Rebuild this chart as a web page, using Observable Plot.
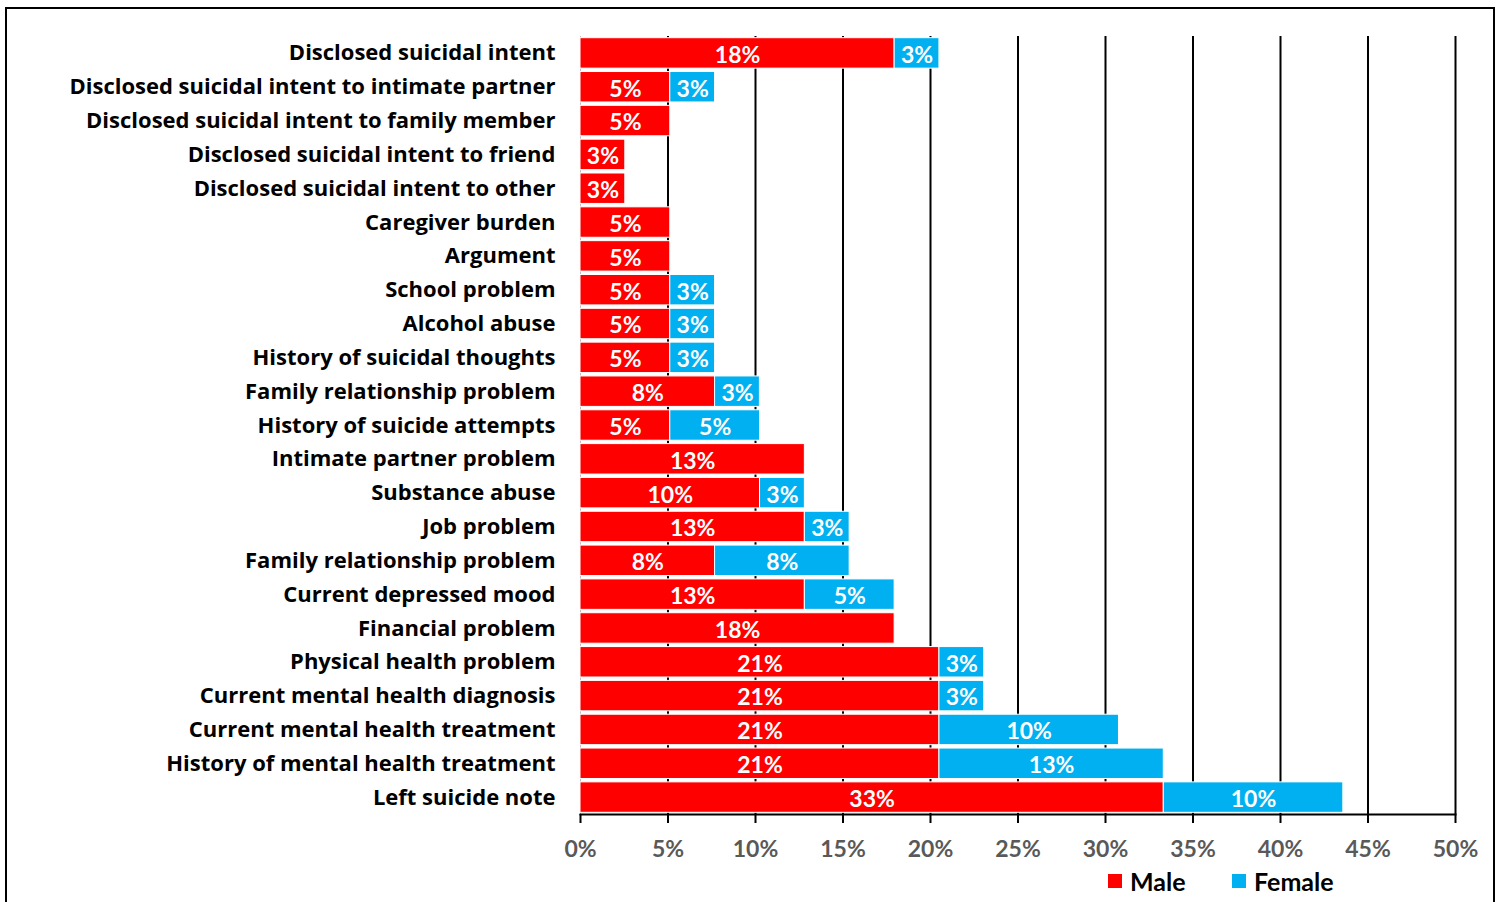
<!DOCTYPE html>
<html>
<head>
<meta charset="utf-8">
<script src="https://cdn.jsdelivr.net/npm/d3@7"></script>
<script src="https://cdn.jsdelivr.net/npm/@observablehq/plot@0.6"></script>
<style>
  html, body { margin: 0; padding: 0; background: #fff; }
  body { width: 1501px; height: 902px; overflow: hidden; position: relative; font-family: Lato, "Open Sans", sans-serif; }
  #border { position: absolute; left: 5px; top: 7px; width: 1486px; height: 1000px; border: 2px solid #000; pointer-events: none; }
  #legend { position: absolute; left: 0; top: 866px; width: 1501px; height: 30px; }
  .item { position: absolute; top: 0; display: flex; align-items: center; height: 30px; font-weight: bold; font-size: 25px; color: #000; }
  .sw { width: 14px; height: 14px; margin-right: 8px; }
</style>
</head>
<body>
<div id="chart"></div>
<div id="legend"></div>
<div id="border"></div>
<script>
const categories = [
  "Disclosed suicidal intent",
  "Disclosed suicidal intent to intimate partner",
  "Disclosed suicidal intent to family member",
  "Disclosed suicidal intent to friend",
  "Disclosed suicidal intent to other",
  "Caregiver burden",
  "Argument",
  "School problem",
  "Alcohol abuse",
  "History of suicidal thoughts",
  "Family relationship problem",
  "History of suicide attempts",
  "Intimate partner problem",
  "Substance abuse",
  "Job problem",
  "Family relationship problem",
  "Current depressed mood",
  "Financial problem",
  "Physical health problem",
  "Current mental health diagnosis",
  "Current mental health treatment",
  "History of mental health treatment",
  "Left suicide note"
];
const male =   [17.95, 5.13, 5.13, 2.56, 2.56, 5.13, 5.13, 5.13, 5.13, 5.13, 7.69, 5.13, 12.82, 10.26, 12.82, 7.69, 12.82, 17.95, 20.51, 20.51, 20.51, 20.51, 33.33];
const female = [2.56, 2.56, 0, 0, 0, 0, 0, 2.56, 2.56, 2.56, 2.56, 5.13, 0, 2.56, 2.56, 7.69, 5.13, 0, 2.56, 2.56, 10.26, 12.82, 10.26];
const seriesNames = ["Male", "Female"];
const seriesColors = ["#ff0000", "#00b0f0"];
const xTicks = [0, 5, 10, 15, 20, 25, 30, 35, 40, 45, 50];

const data = [];
categories.forEach((c, i) => {
  if (male[i] > 0) data.push({i, sex: "Male", value: male[i]});
  if (female[i] > 0) data.push({i, sex: "Female", value: female[i]});
});

const font = "Lato, 'Open Sans', sans-serif";

const chart = Plot.plot({
  width: 1501,
  height: 866,
  marginLeft: 580,
  marginRight: 46,
  marginTop: 36,
  marginBottom: 52,
  style: {fontFamily: font, fontWeight: "bold", background: "transparent"},
  x: {domain: [0, 50], label: null},
  y: {type: "band", domain: d3.range(categories.length), paddingInner: 0.1, paddingOuter: 0.05, round: false, label: null},
  color: {domain: seriesNames, range: seriesColors},
  marks: [
    Plot.gridX(xTicks.filter(d => d > 0), {stroke: "#000", strokeOpacity: 1, strokeWidth: 2}),
    Plot.ruleX([0], {stroke: "#bfbfbf", strokeWidth: 1}),
    Plot.barX(data, Plot.stackX({x: "value", y: "i", fill: "sex", stroke: "#fff", strokeWidth: 1})),
    Plot.text(data, Plot.stackX({x: "value", y: "i", text: d => Math.round(d.value) + "%", fill: "#fff", fontSize: 23, fontWeight: "bold", dy: 2})),
    Plot.frame({anchor: "bottom", stroke: "#000", strokeWidth: 2}),
    Plot.axisX(xTicks, {tickSize: 9, stroke: "#000", strokeWidth: 2, text: null, label: null}),
    Plot.axisX(xTicks, {tickSize: 0, tickPadding: 26, color: "#595959", fill: "#595959", fontSize: 23, fontWeight: "bold", tickFormat: d => d + "%", label: null}),
    Plot.axisY({tickSize: 0, tickPadding: 25, fill: "#000", fontSize: 22, fontFamily: "'Open Sans', sans-serif", fontWeight: "bold", tickFormat: i => categories[i], label: null})
  ]
});
document.getElementById("chart").append(chart);

const legend = document.getElementById("legend");
const legendX = [1108, 1232];
seriesNames.forEach((name, k) => {
  const item = document.createElement("div");
  item.className = "item";
  item.style.left = legendX[k] + "px";
  item.innerHTML = `<div class="sw" style="background:${seriesColors[k]}"></div><span>${name}</span>`;
  legend.append(item);
});
</script>
</body>
</html>
